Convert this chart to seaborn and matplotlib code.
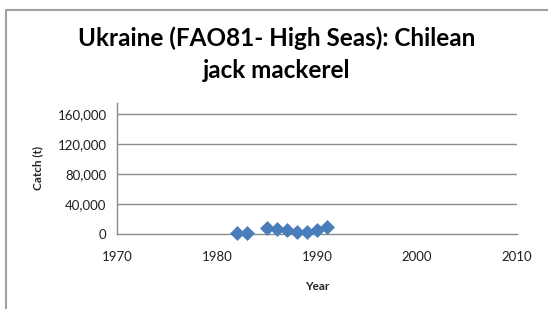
import matplotlib
matplotlib.use("Agg")
import matplotlib.pyplot as plt
import seaborn as sns
import pandas as pd
from matplotlib.patches import Rectangle
from matplotlib.ticker import MultipleLocator, FuncFormatter

years = [1982, 1983, 1985, 1986, 1987, 1988, 1989, 1990, 1991]
catch = [1500, 2000, 7600, 7000, 5800, 2700, 3100, 5400, 9800]
yticks = [0, 40000, 80000, 120000, 160000]
xticks = [1970, 1980, 1990, 2000, 2010]
title = "Ukraine (FAO81- High Seas): Chilean\njack mackerel"

sns.set_style("white")
plt.rcParams['font.family'] = ['Lato', 'DejaVu Sans']

df = pd.DataFrame({"Year": years, "Catch": catch})

fig = plt.figure(figsize=(5.48, 3.09), dpi=100)
ax = fig.add_axes([117/548, 1 - 234/309, 400/548, (234 - 103)/309])

grid_c = "#8c8c8c"
for yt in yticks[1:]:
    ax.axhline(yt, color=grid_c, lw=1.0, zorder=0)

sns.scatterplot(data=df, x="Year", y="Catch", ax=ax, marker="D", s=50,
                color="#4a7ebb", edgecolor="#4a7ebb", linewidth=0.5, zorder=3, clip_on=False)

ax.set_xlim(1970, 2010)
ax.set_ylim(0, 175000)
ax.set_xticks(xticks)
ax.set_yticks(yticks)
ax.xaxis.set_minor_locator(MultipleLocator(2))
ax.yaxis.set_minor_locator(MultipleLocator(20000))
ax.yaxis.set_major_formatter(FuncFormatter(lambda v, p: f"{int(v):,}"))

for s in ["top", "right"]:
    ax.spines[s].set_visible(False)
for s in ["left", "bottom"]:
    ax.spines[s].set_color(grid_c)
    ax.spines[s].set_linewidth(1.0)

ax.tick_params(axis="both", which="major", direction="inout", length=7, width=1,
               color=grid_c, labelsize=9.5, labelcolor="#202020")
ax.tick_params(axis="both", which="minor", direction="out", length=4, width=1, color=grid_c)
ax.tick_params(axis="x", which="major", pad=9)
ax.tick_params(axis="y", which="major", pad=4)

ax.set_xlabel("Year", fontsize=8.5, fontweight="bold", labelpad=13)
ax.set_ylabel("Catch (t)", fontsize=8.5, fontweight="bold", labelpad=10)

fig.text(277/548, 1 - 54/309, title, ha="center", va="center", fontsize=17.5,
         fontweight="bold", linespacing=1.5, color="#000000")

fig.patches.append(Rectangle((6/548, -0.1), 1.2, (309 - 9.5)/309 + 0.1,
                             transform=fig.transFigure, fill=False,
                             edgecolor="#a0a0a0", lw=1.5))

fig.savefig("out.png", dpi=100)
